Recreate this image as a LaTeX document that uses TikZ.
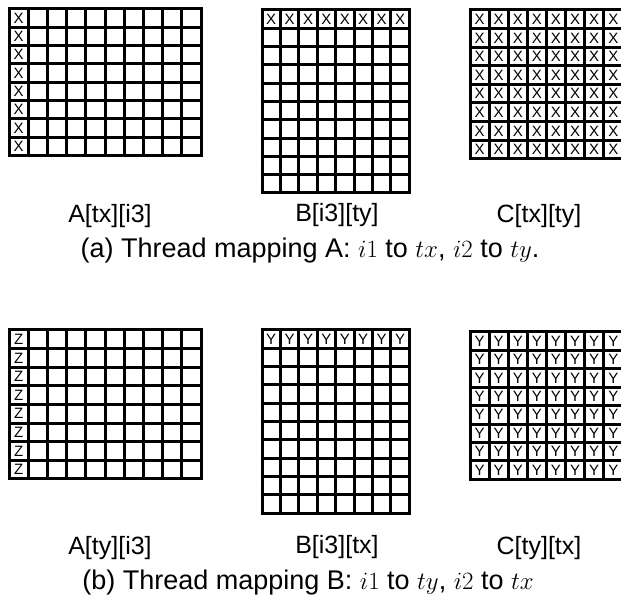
\documentclass[tikz,border=0pt]{standalone}
\usepackage{fontspec}
\setmainfont{Liberation Sans}
\begin{document}
\begin{tikzpicture}[x=1pt,y=-1pt,
  gridline/.style={line width=3pt,black},
  cellmark/.style={inner sep=0pt,font=\fontsize{15}{15}\selectfont},
  lab/.style={inner sep=0pt,font=\fontsize{25}{27}\selectfont},
  captext/.style={inner sep=0pt,font=\fontsize{27}{29}\selectfont}]
\useasboundingbox (0,0) rectangle (621,601);
\clip (0,0) rectangle (621,601);
% #1 x0, #2 y0, #3 cols, #4 rows, #5 cw, #6 ch
\newcommand\mygrid[6]{%
  \foreach \i in {0,...,#3}{\draw[gridline] ({#1+\i*#5},{#2-1.5}) -- ({#1+\i*#5},{#2+#4*#6+1.5});}
  \foreach \j in {0,...,#4}{\draw[gridline] ({#1-1.5},{#2+\j*#6}) -- ({#1+#3*#5+1.5},{#2+\j*#6});}
}
% #1 x0 #2 y0 #3 cols #4 rows #5 cw #6 ch #7 letter
\newcommand\mymarks[7]{%
  \foreach \i in {1,...,#3}{\foreach \j in {1,...,#4}{%
    \node[cellmark] at ({#1+(\i-0.5)*#5},{#2+(\j-0.5)*#6}) {#7};}}
}
% ---- (a) ----
\mygrid{9}{9}{10}{8}{19.2}{18.3}
\mymarks{9}{9}{1}{8}{19.2}{18.3}{X}
\mygrid{262}{10}{8}{10}{18.4}{18.3}
\mymarks{262}{10}{8}{1}{18.4}{18.3}{X}
\mygrid{470}{10}{8}{8}{19.1}{18.6}
\mymarks{470}{10}{8}{8}{19.1}{18.6}{X}
\node[lab] (la) at (110,216) {A[tx][i3]};
\node[lab] (lb) at (337,215) {B[i3][ty]};
\node[lab] (lc) at (539,216) {C[tx][ty]};
\node[captext] (capa) at (310,251) {(a) Thread mapping A: $i1$ to $tx$, $i2$ to $ty$.};
% ---- (b) ----
\mygrid{9}{330}{10}{8}{19.2}{18.6}
\mymarks{9}{330}{1}{8}{19.2}{18.6}{Z}
\mygrid{262}{330}{8}{10}{18.4}{18.3}
\mymarks{262}{330}{8}{1}{18.4}{18.3}{Y}
\mygrid{470}{332}{8}{8}{19.1}{18.4}
\mymarks{470}{332}{8}{8}{19.1}{18.4}{Y}
\node[lab] (la2) at (110,548) {A[ty][i3]};
\node[lab] (lb2) at (337,547) {B[i3][tx]};
\node[lab] (lc2) at (539,548) {C[ty][tx]};
\node[captext] (capb) at (308,583) {(b) Thread mapping B: $i1$ to $ty$, $i2$ to $tx$};
\end{tikzpicture}
\end{document}
